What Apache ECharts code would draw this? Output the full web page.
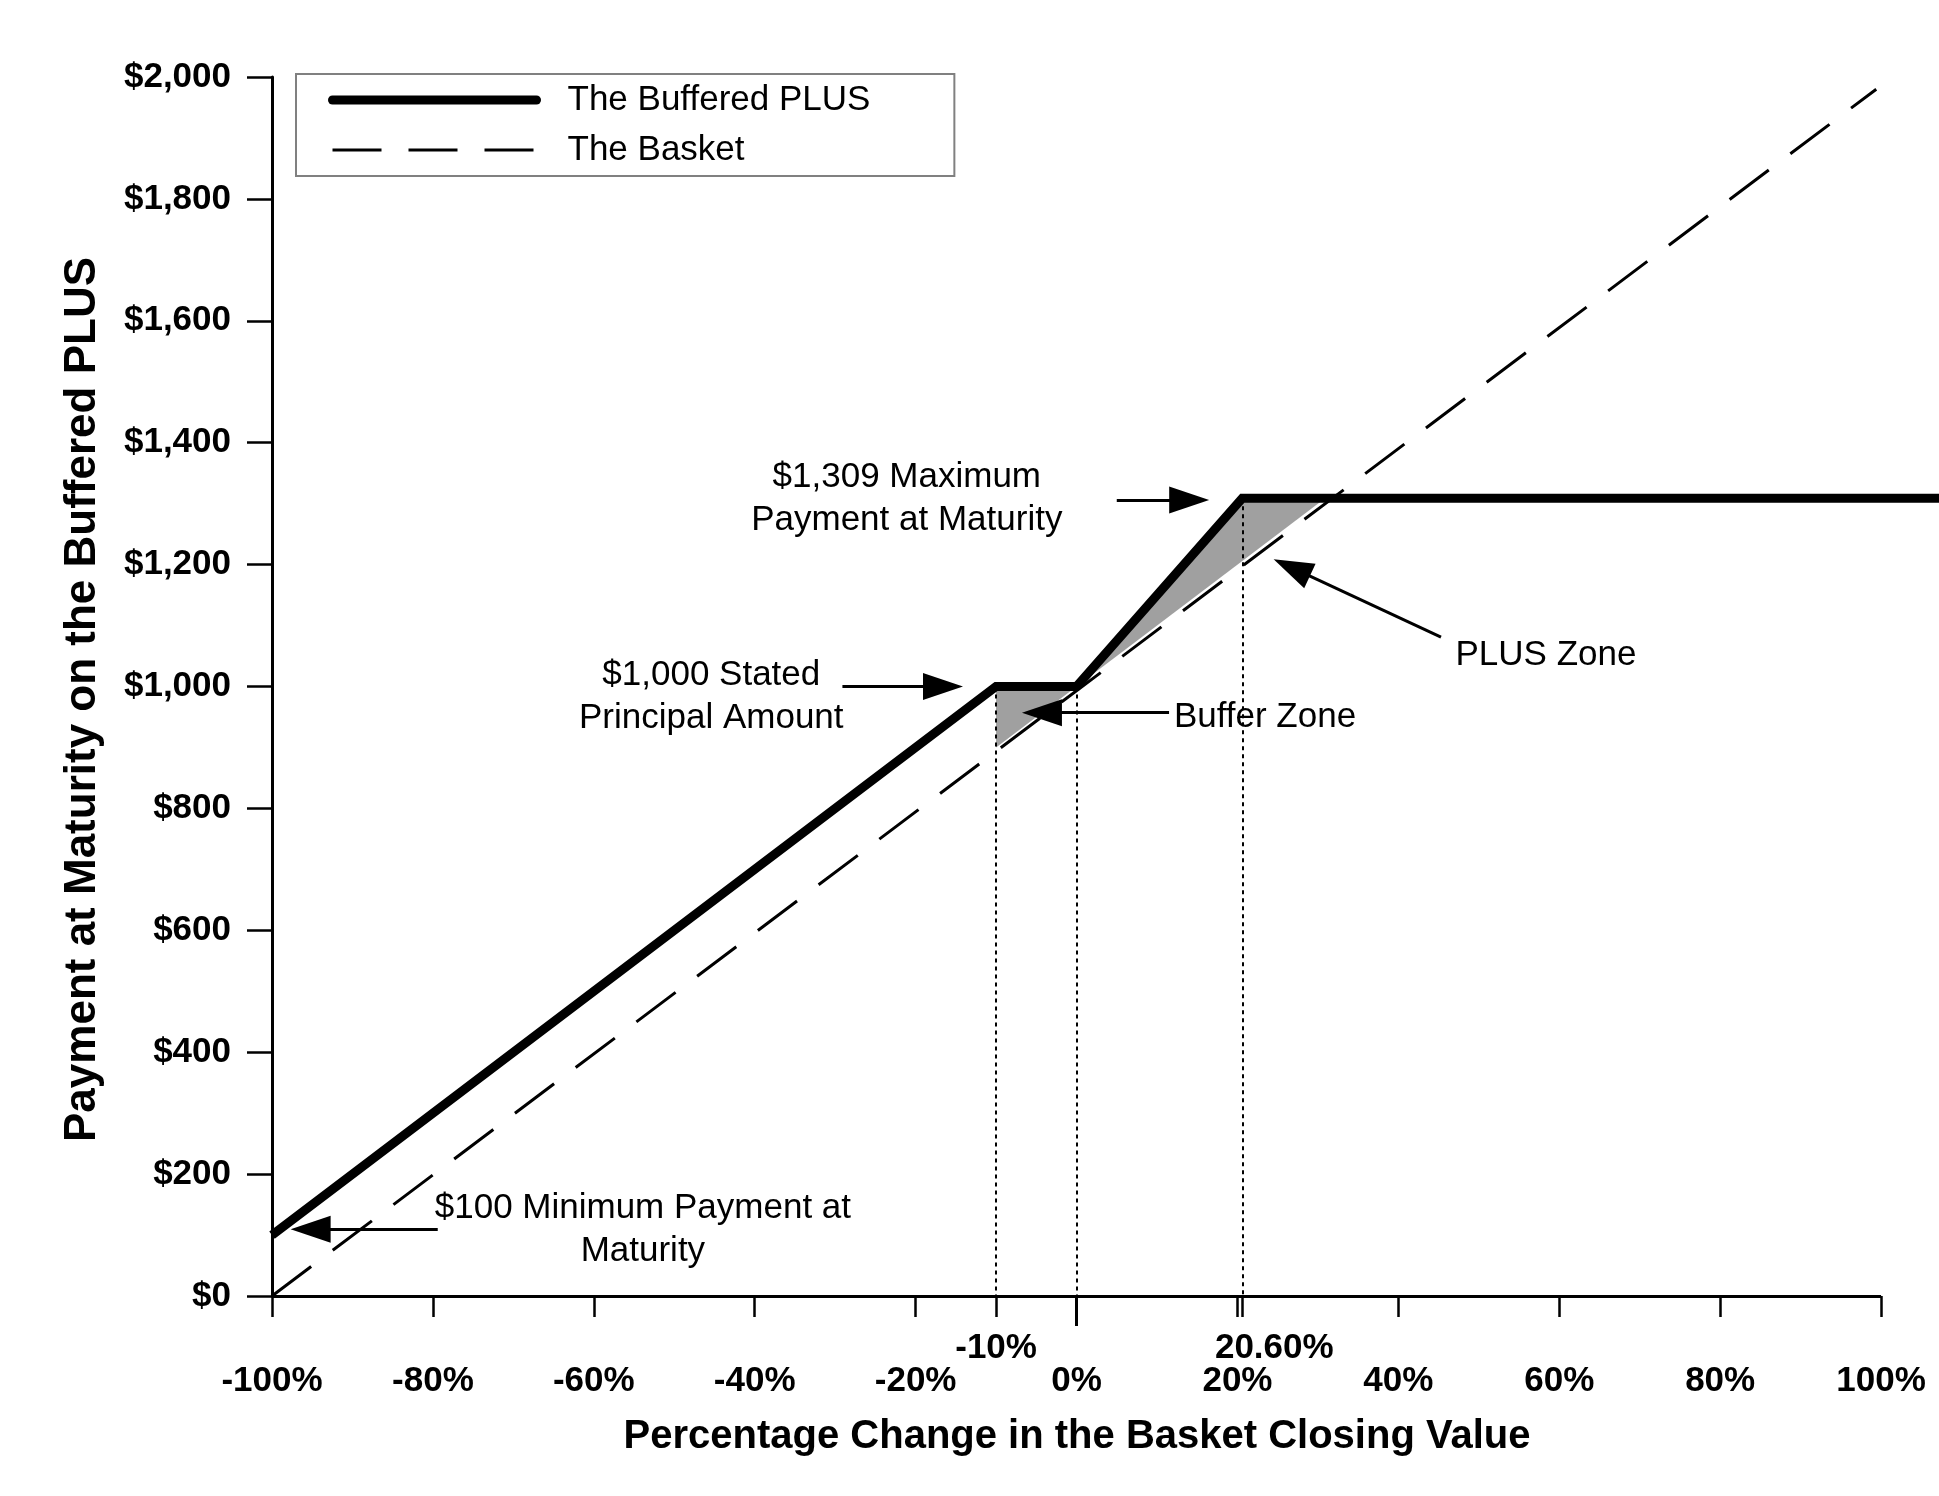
<!DOCTYPE html>
<html>
<head>
<meta charset="utf-8">
<script src="https://cdn.jsdelivr.net/npm/echarts@6/dist/echarts.min.js"></script>
<style>
html,body{margin:0;padding:0;background:#fff;}
#chart{width:1939px;height:1496px;}
</style>
</head>
<body>
<div id="chart"></div>
<script>
// ---- data ----
const plusX = [-100, -10, 0, 20.6, 107.2];
const plusY = [100, 1000, 1000, 1309, 1309];
const basketX = [-100, 99.4];
const basketY = [0, 1980];
const bufferZone = [[-10, 1000], [0, 1000], [-10, 900]];
const plusZone = [[0, 1000], [20.6, 1309], [30.9, 1309]];
const guideX = [-10, 0, 20.6];
const guideTop = [1000, 1000, 1309];
const xAxisSpan = [-100, 100];
const specialTickValues = [-10, 20.6];
const specialTickLabels = ['-10%', '20.60%'];
const zeroTick = [0];
const seriesNames = ['The Buffered PLUS', 'The Basket'];
const xTitle = 'Percentage Change in the Basket Closing Value';
const yTitle = 'Payment at Maturity on the Buffered PLUS';

const FONT = '"Liberation Sans", Arial, Helvetica, sans-serif';
const zones = [bufferZone, plusZone];
const X_MIN = -100, X_MAX = 107.2;

const chart = echarts.init(document.getElementById('chart'), null, {renderer: 'canvas'});

const option = {
  backgroundColor: '#ffffff',
  animation: false,
  textStyle: {fontFamily: FONT, color: '#000'},
  grid: {left: 272, right: 0, top: 77, bottom: 200, containLabel: false},
  legend: {
    orient: 'vertical',
    left: 296, top: 74,
    data: [
      {name: seriesNames[0], lineStyle: {width: 9, cap: 'round'}},
      {name: seriesNames[1], lineStyle: {width: 3}}
    ],
    itemWidth: 204, itemHeight: 40, itemGap: 10,
    padding: [6, 84, 6, 32],
    borderColor: '#808080', borderWidth: 2,
    itemStyle: {opacity: 0},
    textStyle: {fontFamily: FONT, fontSize: 35, color: '#000', lineHeight: 40, padding: [0, 0, 0, 26]}
  },
  xAxis: [
    {
      type: 'value', min: X_MIN, max: X_MAX, interval: 20, position: 'bottom',
      name: xTitle, nameLocation: 'middle', nameGap: 121,
      nameTextStyle: {fontFamily: FONT, fontSize: 40, fontWeight: 'bold', color: '#000', padding: [0, 57, 0, 0]},
      axisLine: {show: false},
      axisTick: {show: true, length: 21, lineStyle: {color: '#000', width: 2.5}},
      axisLabel: {showMaxLabel: false, formatter: v => v + '%', margin: 68, fontFamily: FONT, fontSize: 35, fontWeight: 'bold', color: '#000'},
      splitLine: {show: false}
    },
    {
      type: 'value', min: X_MIN, max: X_MAX, position: 'bottom', offset: 0,
      axisLine: {show: false},
      axisTick: {show: true, customValues: specialTickValues, length: 21, lineStyle: {color: '#000', width: 2.5}},
      axisLabel: {
        customValues: specialTickValues,
        formatter: v => {
          const i = specialTickValues.indexOf(v);
          return '{' + (i === 0 ? 'a' : 'b') + '|' + specialTickLabels[i] + '}';
        },
        rich: {
          a: {fontFamily: FONT, fontSize: 35, fontWeight: 'bold', color: '#000'},
          b: {fontFamily: FONT, fontSize: 35, fontWeight: 'bold', color: '#000', padding: [0, 0, 0, 64]}
        },
        margin: 35, fontFamily: FONT, fontSize: 35, fontWeight: 'bold', color: '#000'
      },
      splitLine: {show: false}
    },
    {
      type: 'value', min: X_MIN, max: X_MAX, position: 'bottom', offset: 0,
      axisLine: {show: false},
      axisTick: {show: true, customValues: zeroTick, length: 30, lineStyle: {color: '#000', width: 3}},
      axisLabel: {show: false},
      splitLine: {show: false}
    }
  ],
  yAxis: {
    type: 'value', min: 0, max: 2000, interval: 200,
    name: yTitle, nameLocation: 'middle', nameGap: 167, nameRotate: 90,
    nameTextStyle: {fontFamily: FONT, fontSize: 44, fontWeight: 'bold', color: '#000', padding: [0, 26, 0, 0]},
    axisLine: {show: true, onZero: false, lineStyle: {color: '#000', width: 3}},
    axisTick: {show: true, length: 25, lineStyle: {color: '#000', width: 2.5}},
    axisLabel: {
      formatter: v => '$' + v.toLocaleString('en-US'),
      margin: 41, fontFamily: FONT, fontSize: 35, fontWeight: 'bold', color: '#000'
    },
    splitLine: {show: false}
  },
  series: [
    {
      name: 'zones', type: 'custom', z: 1, silent: true,
      data: zones.map((z, i) => [z[0][0], z[0][1], i]),
      renderItem: (params, api) => {
        const poly = zones[api.value(2)].map(p => api.coord(p));
        return {type: 'polygon', shape: {points: poly}, style: {fill: '#a0a0a0'}};
      }
    },
    {
      name: 'guides', type: 'line', z: 2, data: [], silent: true, clip: false,
      markLine: {
        silent: true, symbol: ['none', 'none'], animation: false,
        label: {show: false},
        lineStyle: {color: '#000', width: 2, type: [4, 4]},
        data: guideX.map((x, i) => [{coord: [x, guideTop[i]]}, {coord: [x, 0]}])
      }
    },
    {
      name: 'axisline', type: 'line', z: 6, data: [], silent: true, clip: false,
      markLine: {
        silent: true, symbol: ['none', 'none'], animation: false,
        label: {show: false},
        lineStyle: {color: '#000', width: 3, type: 'solid'},
        data: [[{coord: [xAxisSpan[0], 0]}, {coord: [xAxisSpan[1], 0]}]]
      }
    },
    {
      name: seriesNames[1], type: 'line', z: 3,
      data: basketX.map((x, i) => [x, basketY[i]]),
      symbol: 'none', showSymbol: false,
      lineStyle: {color: '#000', width: 3, type: [49, 27]},
      itemStyle: {color: '#000'}
    },
    {
      name: seriesNames[0], type: 'line', z: 4, clip: false,
      data: plusX.map((x, i) => [x, plusY[i]]),
      symbol: 'none', showSymbol: false,
      lineStyle: {color: '#000', width: 9, join: 'miter'},
      itemStyle: {color: '#000'}
    },
    {
      name: 'annotations', type: 'line', z: 5, data: [], silent: true, clip: false,
      markLine: {
        silent: true, animation: false,
        symbol: ['none', 'triangle'], symbolSize: 30,
        label: {show: false},
        itemStyle: {color: '#000'},
        lineStyle: {color: '#000', width: 3, type: 'solid'},
        data: [
          [{coord: [5.0, 1306]}, {coord: [14.0, 1306], symbol: 'triangle', symbolSize: [27, 40]}],
          [{coord: [-29.1, 1000]}, {coord: [-16.6, 1000], symbol: 'triangle', symbolSize: [27, 40]}],
          [{coord: [11.5, 957]}, {coord: [-4.3, 957], symbol: 'triangle', symbolSize: [27, 40]}],
          [{coord: [45.3, 1081]}, {coord: [26.75, 1195], symbol: 'triangle', symbolSize: [27, 40]}],
          [{coord: [-79.4, 109.5]}, {coord: [-95.2, 109.5], symbol: 'triangle', symbolSize: [27, 40]}]
        ]
      },
      markPoint: {
        silent: true, animation: false,
        symbol: 'circle', symbolSize: 0,
        label: {show: true, position: 'inside', color: '#000', fontFamily: FONT, fontSize: 35, lineHeight: 43, fontWeight: 'normal'},
        data: [
          {coord: [-21.1, 1308], value: 0, label: {formatter: '$1,309 Maximum\nPayment at Maturity', align: 'center'}},
          {coord: [-45.4, 983], value: 0, label: {formatter: '$1,000 Stated\nPrincipal Amount', align: 'center'}},
          {coord: [12.1, 949], value: 0, label: {formatter: 'Buffer Zone', align: 'left'}},
          {coord: [47.1, 1051], value: 0, label: {formatter: 'PLUS Zone', align: 'left'}},
          {coord: [-53.9, 108], value: 0, label: {formatter: '$100 Minimum Payment at\nMaturity', align: 'center'}}
        ]
      }
    }
  ]
};
chart.setOption(option);
</script>
</body>
</html>
